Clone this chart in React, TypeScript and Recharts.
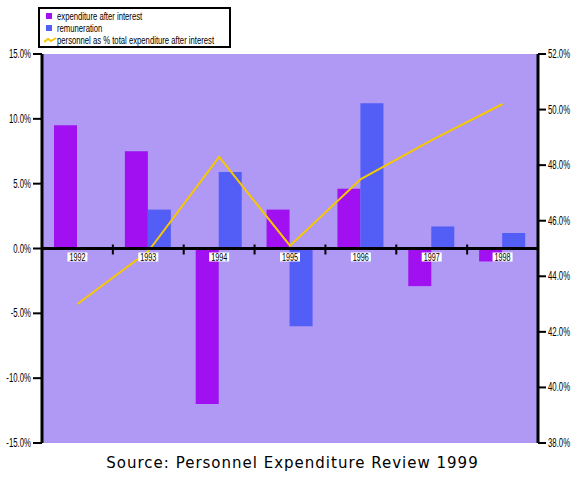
import React from "react";
import {
  ComposedChart,
  Bar,
  Line,
  XAxis,
  YAxis,
  CartesianGrid,
  ReferenceLine,
} from "recharts";

const YEARS = ["1992", "1993", "1994", "1995", "1996", "1997", "1998"];
const EXPENDITURE = [9.5, 7.5, -12.0, 3.0, 4.6, -2.9, -1.0];
const REMUNERATION = [0, 3.0, 5.9, -6.0, 11.2, 1.7, 1.2];
const PERSONNEL_SHARE = [43.0, 44.9, 48.3, 45.1, 47.5, 48.9, 50.2];
const LEFT_TICKS = [-15, -10, -5, 0, 5, 10, 15];
const RIGHT_TICKS = [38, 40, 42, 44, 46, 48, 50, 52];

const PURPLE = "#A010F0";
const BLUE = "#525EF5";
const YELLOW = "#F5C800";
const PLOT_BG = "#B098F5";
const FONT = '"Liberation Sans", Arial, sans-serif';

const data = YEARS.map((year, i) => ({
  year,
  expenditure: EXPENDITURE[i],
  remuneration: REMUNERATION[i],
  share: PERSONNEL_SHARE[i],
}));

const pct = (v: number) => `${v.toFixed(1)}%`;

// squeezed labels, the original uses a very narrow bitmap font
// eslint-disable-next-line @typescript-eslint/no-explicit-any
function AxisTick(props: any) {
  const { x, y, payload, textAnchor } = props;
  return (
    <text
      transform={`translate(${x},${y}) scale(0.65,1)`}
      textAnchor={textAnchor}
      dy={4}
      fontFamily={FONT}
      fontSize={12}
      fill="#000"
    >
      {pct(payload.value)}
    </text>
  );
}

// zero line with year ticks and boxed labels, built from the reference line's ends
// eslint-disable-next-line @typescript-eslint/no-explicit-any
function ZeroAxis(props: any) {
  const { x1, x2, y1 } = props;
  const step = (x2 - x1) / YEARS.length;
  return (
    <g>
      <line x1={x1} x2={x2} y1={y1} y2={y1} stroke="#000" strokeWidth={3} />
      {YEARS.slice(1).map((_, i) => (
        <line
          key={`t${i}`}
          x1={x1 + step * (i + 1)}
          x2={x1 + step * (i + 1)}
          y1={y1 - 4}
          y2={y1 + 6}
          stroke="#000"
          strokeWidth={2}
        />
      ))}
      {YEARS.map((yr, i) => {
        const cx = x1 + step * (i + 0.5);
        return (
          <g key={yr}>
            <rect x={cx - 10} y={y1 + 4} width={20} height={9} fill="#fff" />
            <text
              transform={`translate(${cx},${y1 + 12}) scale(0.72,1)`}
              textAnchor="middle"
              fontFamily={FONT}
              fontSize={10}
              fill="#000"
            >
              {yr}
            </text>
          </g>
        );
      })}
    </g>
  );
}

function LegendBox() {
  const rows = [
    { label: "expenditure after interest", color: PURPLE, kind: "box" },
    { label: "remuneration", color: BLUE, kind: "box" },
    { label: "personnel as % total expenditure after interest", color: YELLOW, kind: "line" },
  ];
  return (
    <div
      style={{
        position: "absolute",
        left: 38,
        top: 7,
        width: 189,
        height: 36,
        border: "2px solid #000",
        background: "#fff",
        fontFamily: FONT,
        fontSize: 11,
        lineHeight: "12px",
        paddingTop: 1,
      }}
    >
      {rows.map((r) => (
        <div key={r.label} style={{ display: "flex", alignItems: "center", height: 12, paddingLeft: 4 }}>
          <svg width={13} height={10} style={{ flex: "none" }}>
            {r.kind === "box" ? (
              <rect x={2} y={2} width={6} height={6} fill={r.color} />
            ) : (
              <polyline points="0,7 4,4 7,6 12,3" fill="none" stroke={r.color} strokeWidth={2} />
            )}
          </svg>
          <span
            style={{
              whiteSpace: "nowrap",
              display: "inline-block",
              transform: "scaleX(0.7)",
              transformOrigin: "left center",
            }}
          >
            {r.label}
          </span>
        </div>
      ))}
    </div>
  );
}

export default function App() {
  return (
    <div style={{ position: "absolute", left: 0, top: 0, width: 585, height: 477, background: "#fff" }}>
      <ComposedChart
        width={585}
        height={477}
        data={data}
        margin={{ top: 54, right: 0, bottom: 34, left: 0 }}
        barGap={0}
      >
        <CartesianGrid horizontal={false} vertical={false} fill={PLOT_BG} stroke="none" />
        <XAxis dataKey="year" hide />
        <YAxis
          yAxisId="left"
          domain={[-15, 15]}
          ticks={LEFT_TICKS}
          width={42}
          axisLine={{ stroke: "#000", strokeWidth: 3 }}
          tickLine={{ stroke: "#000", strokeWidth: 2 }}
          tickSize={9}
          tickMargin={2}
          tick={AxisTick}
        />
        <YAxis
          yAxisId="right"
          orientation="right"
          domain={[38, 52]}
          ticks={RIGHT_TICKS}
          width={47}
          axisLine={{ stroke: "#000", strokeWidth: 3 }}
          tickLine={{ stroke: "#000", strokeWidth: 2 }}
          tickSize={8}
          tickMargin={2}
          tick={AxisTick}
        />
        <Bar yAxisId="left" dataKey="expenditure" fill={PURPLE} barSize={23} isAnimationActive={false} />
        <Bar yAxisId="left" dataKey="remuneration" fill={BLUE} barSize={23} isAnimationActive={false} />
        <Line
          yAxisId="right"
          dataKey="share"
          stroke={YELLOW}
          strokeWidth={2}
          dot={false}
          activeDot={false}
          type="linear"
          isAnimationActive={false}
        />
        <ReferenceLine yAxisId="left" y={0} shape={ZeroAxis} />
      </ComposedChart>
      <LegendBox />
      <div
        style={{
          position: "absolute",
          left: 0,
          top: 454,
          width: 585,
          textAlign: "center",
          fontFamily: '"DejaVu Sans", sans-serif',
          fontSize: 15,
          letterSpacing: 1,
          color: "#000",
        }}
      >
        Source: Personnel Expenditure Review 1999
      </div>
    </div>
  );
}
